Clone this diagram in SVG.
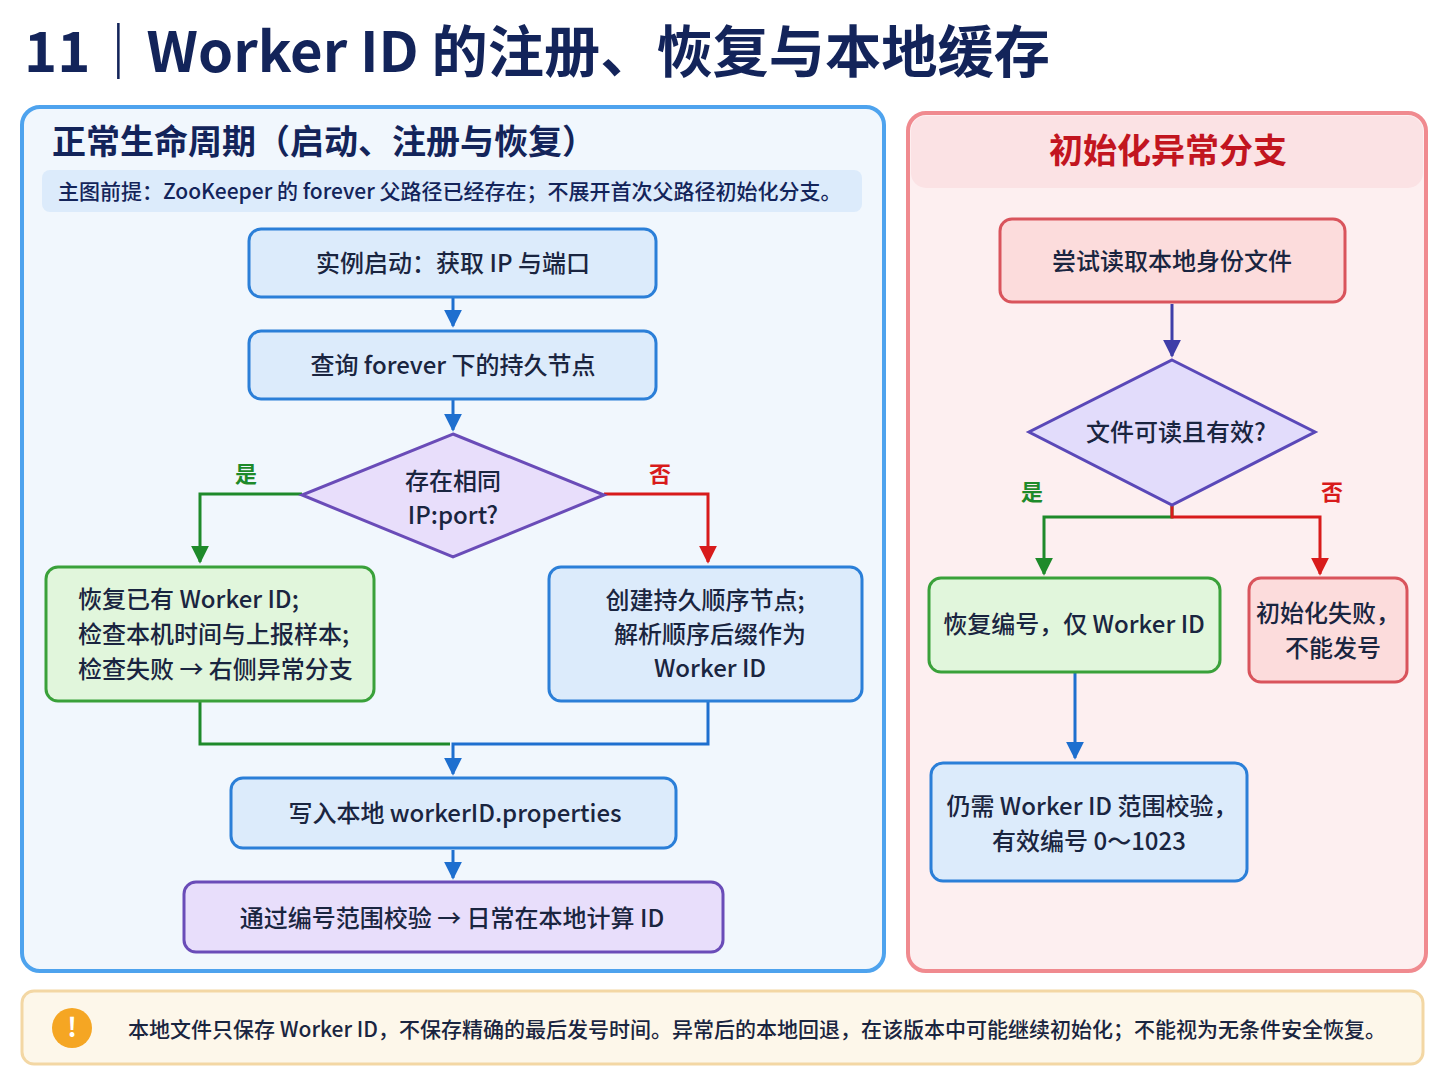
<svg xmlns="http://www.w3.org/2000/svg" width="1448" height="1086" viewBox="0 0 1448 1086">
<defs>
<style>
text{font-family:"Noto Sans CJK SC","Noto Sans",sans-serif;fill:#1a2540;}
.t{font-size:24px;font-weight:500;text-anchor:middle;}
.blue{fill:#dcebfb;stroke:#2b7fd8;stroke-width:3;}
.green{fill:#e1f6dc;stroke:#3aa13a;stroke-width:3;}
.red{fill:#fcdcdc;stroke:#d9545c;stroke-width:3;}
.pur{fill:#e8defb;stroke:#6a4cb8;stroke-width:3;}
.c{fill:none;stroke-width:3;}
</style>
<marker id="ab" viewBox="0 0 10 10" refX="9" refY="5" markerWidth="6" markerHeight="6" orient="auto"><path d="M0,0L10,5L0,10z" fill="#1e6fcf"/></marker>
<marker id="ag" viewBox="0 0 10 10" refX="9" refY="5" markerWidth="6" markerHeight="6" orient="auto"><path d="M0,0L10,5L0,10z" fill="#1e8a2a"/></marker>
<marker id="ar" viewBox="0 0 10 10" refX="9" refY="5" markerWidth="6" markerHeight="6" orient="auto"><path d="M0,0L10,5L0,10z" fill="#d81b1b"/></marker>
<marker id="ap" viewBox="0 0 10 10" refX="9" refY="5" markerWidth="6" markerHeight="6" orient="auto"><path d="M0,0L10,5L0,10z" fill="#3f3ea8"/></marker>
</defs>
<rect width="1448" height="1086" fill="#ffffff"/>
<text x="24" y="72" style="font-size:56px;font-weight:700;fill:#13245a" textLength="1026" lengthAdjust="spacingAndGlyphs">11｜Worker ID 的注册、恢复与本地缓存</text>

<g id="panel-left">
<rect x="22" y="107" width="862" height="864" rx="18" fill="#f1f7fd" stroke="#4ea3ee" stroke-width="4"/>
<text x="52" y="154" style="font-size:34px;font-weight:700;fill:#13245a">正常生命周期（启动、注册与恢复）</text>
<rect x="42" y="170" width="820" height="42" rx="8" fill="#dcebfb"/>
<text x="58" y="199" style="font-size:21px;font-weight:500;fill:#13245a">主图前提：ZooKeeper 的 forever 父路径已经存在；不展开首次父路径初始化分支。</text>
</g>
<g id="panel-right">
<rect x="908" y="113" width="518" height="858" rx="18" fill="#fdeff0" stroke="#f08a8f" stroke-width="4"/>
<rect x="911" y="116" width="512" height="72" rx="15" fill="#fbe2e4"/>
<text x="1168" y="163" style="font-size:34px;font-weight:700;fill:#c2151f;text-anchor:middle">初始化异常分支</text>
</g>

<g id="connectors">
<path class="c" d="M453 298V326" stroke="#1e6fcf" marker-end="url(#ab)"/>
<path class="c" d="M453 400V430" stroke="#1e6fcf" marker-end="url(#ab)"/>
<path class="c" d="M302 494H200V562" stroke="#1e8a2a" marker-end="url(#ag)"/>
<path class="c" d="M604 494H708V562" stroke="#d81b1b" marker-end="url(#ar)"/>
<path class="c" d="M200 702V744H450" stroke="#1e8a2a"/>
<path class="c" d="M708 702V744H453V774" stroke="#1e6fcf" marker-end="url(#ab)"/>
<path class="c" d="M453 850V878" stroke="#1e6fcf" marker-end="url(#ab)"/>
<path class="c" d="M1172 304V356" stroke="#3f3ea8" marker-end="url(#ap)"/>
<path class="c" d="M1172 506V517H1044V574" stroke="#1e8a2a" marker-end="url(#ag)"/>
<path class="c" d="M1172 506V517H1320V574" stroke="#d81b1b" marker-end="url(#ar)"/>
<path class="c" d="M1075 673V758" stroke="#1e6fcf" marker-end="url(#ab)"/>
<text x="246" y="482" style="font-size:22px;font-weight:700;fill:#1e8a2a;text-anchor:middle">是</text>
<text x="660" y="482" style="font-size:22px;font-weight:700;fill:#d81b1b;text-anchor:middle">否</text>
<text x="1032" y="500" style="font-size:22px;font-weight:700;fill:#1e8a2a;text-anchor:middle">是</text>
<text x="1332" y="500" style="font-size:22px;font-weight:700;fill:#d81b1b;text-anchor:middle">否</text>
</g>

<g id="n1"><rect class="blue" x="249" y="229" width="407" height="68" rx="12"/><text class="t" x="453" y="272">实例启动：获取 IP 与端口</text></g>
<g id="n2"><rect class="blue" x="249" y="331" width="407" height="68" rx="12"/><text class="t" x="453" y="374">查询 forever 下的持久节点</text></g>
<g id="d1"><polygon class="pur" points="453,434 604,495 453,557 302,495"/><text class="t" x="453" y="490">存在相同</text><text class="t" x="453" y="524">IP:port?</text></g>
<g id="n3"><rect class="green" x="46" y="567" width="328" height="134" rx="12"/>
<text x="78" y="608" style="font-size:24px;font-weight:500">恢复已有 Worker ID;</text>
<text x="78" y="643" style="font-size:24px;font-weight:500">检查本机时间与上报样本;</text>
<text x="78" y="678" style="font-size:24px;font-weight:500">检查失败 → 右侧异常分支</text></g>
<g id="n4"><rect class="blue" x="549" y="567" width="313" height="134" rx="12"/>
<text class="t" x="705" y="609">创建持久顺序节点;</text><text class="t" x="710" y="643">解析顺序后缀作为</text><text class="t" x="710" y="677">Worker ID</text></g>
<g id="n5"><rect class="blue" x="231" y="778" width="445" height="70" rx="12"/><text class="t" x="455" y="822">写入本地 workerID.properties</text></g>
<g id="n6"><rect class="pur" x="184" y="882" width="539" height="70" rx="12"/><text class="t" x="452" y="927">通过编号范围校验 → 日常在本地计算 ID</text></g>

<g id="r1"><rect class="red" x="1000" y="219" width="345" height="83" rx="12"/><text class="t" x="1172" y="270">尝试读取本地身份文件</text></g>
<g id="rd"><polygon class="pur" points="1172,360 1315,432 1172,505 1029,432" style="fill:#e2dcfb;stroke:#5a48b8"/><text class="t" x="1176" y="441">文件可读且有效?</text></g>
<g id="r2"><rect class="green" x="929" y="578" width="291" height="94" rx="12"/><text class="t" x="1074" y="633">恢复编号，仅 Worker ID</text></g>
<g id="r3"><rect class="red" x="1249" y="578" width="158" height="104" rx="12"/><text class="t" x="1328" y="622">初始化失败，</text><text class="t" x="1333" y="657">不能发号</text></g>
<g id="r4"><rect class="blue" x="931" y="763" width="316" height="118" rx="12"/><text class="t" x="1092" y="815">仍需 Worker ID 范围校验，</text><text class="t" x="1089" y="850">有效编号 0～1023</text></g>

<g id="note">
<rect x="22" y="991" width="1401" height="73" rx="12" fill="#fdf7ea" stroke="#f3d7a4" stroke-width="3"/>
<circle cx="72" cy="1028" r="20" fill="#f5a623"/>
<text x="72" y="1037" style="font-size:26px;font-weight:700;fill:#fff;text-anchor:middle">!</text>
<text x="128" y="1037" style="font-size:21px;font-weight:500">本地文件只保存 Worker ID，不保存精确的最后发号时间。异常后的本地回退，在该版本中可能继续初始化；不能视为无条件安全恢复。</text>
</g>
</svg>
